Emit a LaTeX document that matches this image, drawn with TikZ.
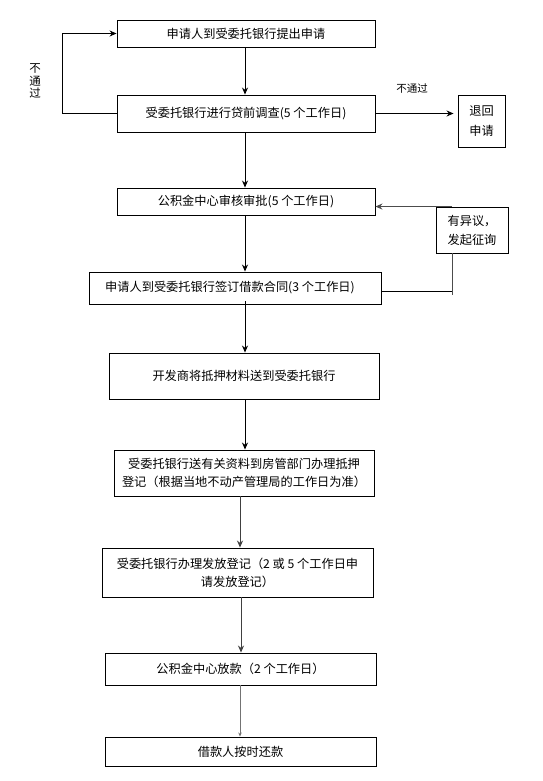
\documentclass[tikz,border=0pt]{standalone}
\usepackage{fontspec}
\setmainfont{Noto Sans CJK SC}
\usetikzlibrary{arrows.meta}
\begin{document}
\begin{tikzpicture}[x=1pt,y=-1pt,
  box/.style={draw,line width=0.9pt,inner sep=0pt,align=center,
    font=\fontsize{12.2}{18}\selectfont},
  arr/.style={draw,line width=0.9pt,-{Stealth[length=7pt,width=6pt]}},
  ln/.style={draw,line width=0.9pt},
  lbl/.style={inner sep=0pt,align=center}]
\useasboundingbox (0,0) rectangle (542,781);
\fill[white] (0,0) rectangle (542,781);
% boxes
\node[box,minimum width=258pt,minimum height=27pt] (n1) at (246,33.5) {申请人到受委托银行提出申请};
\node[box,minimum width=258pt,minimum height=37pt] (n2) at (246,113.5) {受委托银行进行贷前调查(5 个工作日)};
\node[box,minimum width=47pt,minimum height=52pt,font=\fontsize{12.2}{20}\selectfont] (ret) at (481.5,121) {退回\\申请};
\node[box,minimum width=258pt,minimum height=27pt] (n3) at (246,201.5) {公积金中心审核审批(5 个工作日)};
\node[box,minimum width=72pt,minimum height=46pt,font=\fontsize{12.2}{19}\selectfont] (obj) at (472,230) {有异议，\\发起征询};
\node[box,minimum width=292pt,minimum height=32pt] (n4) at (235,288) {\hspace*{-10pt}申请人到受委托银行签订借款合同(3 个工作日)};
\node[box,minimum width=270pt,minimum height=46pt] (n5) at (244,376) {开发商将抵押材料送到受委托银行};
\node[box,minimum width=260pt,minimum height=46pt] (n6) at (244,473) {受委托银行送有关资料到房管部门办理抵押\\登记（根据当地不动产管理局的工作日为准）};
\node[box,minimum width=271pt,minimum height=49pt] (n7) at (237.5,572.5) {受委托银行办理发放登记（2 或 5 个工作日申\\请发放登记）};
\node[box,minimum width=271pt,minimum height=32pt] (n8) at (240.5,669) {公积金中心放款（2 个工作日）};
\node[box,minimum width=271pt,minimum height=29pt] (n9) at (240.5,751.5) {借款人按时还款};
% labels
\node[lbl,font=\fontsize{11.5}{12.5}\selectfont] (l1) at (35,81) {不\\通\\过};
\node[lbl,font=\fontsize{10.5}{12}\selectfont] (l2) at (412,89) {不通过};
% coordinates
\coordinate (jt) at (452,295);
\coordinate (c1) at (452,291);
\coordinate (lx) at (62,0);
% connectors
\draw[arr] (n1.south -| 245,0) -- (n2.north -| 245,0);
\draw[arr] (n2.west) -- (n2.west -| lx) |- (n1.west);
\draw[arr] (n2.east) -- ([xshift=-4pt]ret.west |- n2.east);
\draw[arr] (n2.south -| 245,0) -- (n3.north -| 245,0);
\draw[arr] (n3.south -| 245,0) -- (n4.north -| 245,0);
\draw[arr,draw=black!70] (obj.north -| jt) -- (n3.east |- obj.north);
\draw[ln,draw=black!70] (obj.south -| jt) -- (jt);
\draw[ln] (n4.east |- c1) -- (c1);
\draw[arr] ([yshift=3pt]n4.south -| 245,0) -- (n5.north -| 245,0);
\draw[arr] (n5.south -| 245,0) -- (n6.north -| 245,0);
\draw[arr,draw=black!75] (n6.south -| 240,0) -- (n7.north -| 240,0);
\draw[arr,draw=black!75] (n7.south -| 241,0) -- (n8.north -| 241,0);
\draw[arr,draw=black!55,-{Stealth[length=4pt,width=3.5pt]}] (n8.south -| 240,0) -- (n9.north -| 240,0);
\end{tikzpicture}
\end{document}
